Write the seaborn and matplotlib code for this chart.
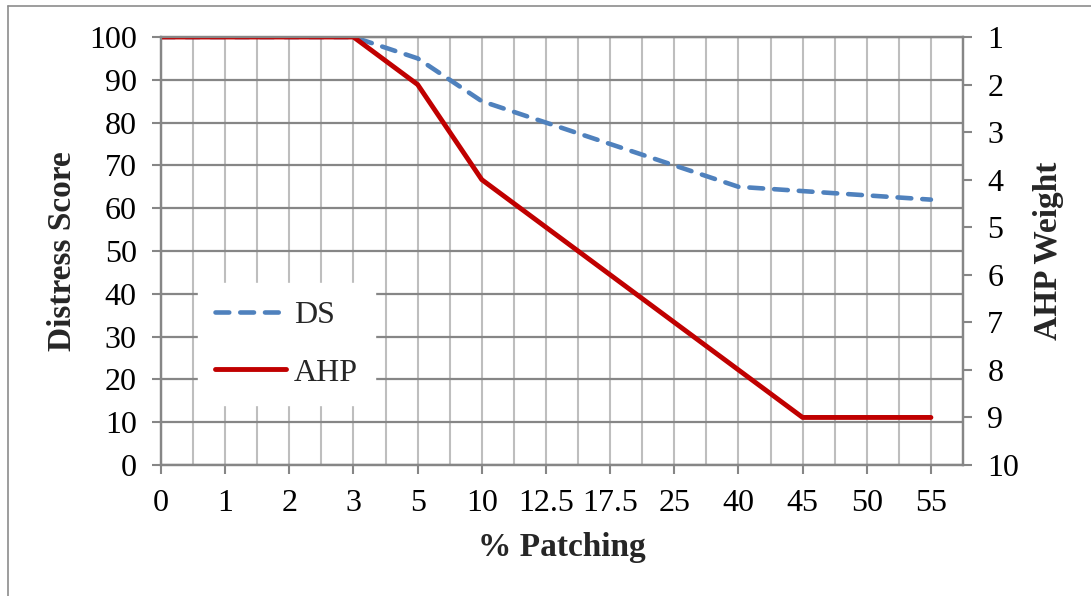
import matplotlib
matplotlib.use("Agg")
import matplotlib.pyplot as plt
import seaborn as sns
import numpy as np
from matplotlib.lines import Line2D
from matplotlib.ticker import MultipleLocator

categories = ["0", "1", "2", "3", "5", "10", "12.5", "17.5", "25", "40", "45", "50", "55"]
ds_values = [100, 100, 100, 100, 95, 85, 80, 75, 70, 65, 64, 63, 62]
ahp_values = [1, 1, 1, 1, 2, 4, 5, 6, 7, 8, 9, 9, 9]
left_ticks = list(range(0, 101, 10))
right_ticks = list(range(1, 11))

sns.set_theme(style="white")
plt.rcParams['font.family'] = ['Liberation Serif', 'DejaVu Serif']

BLUE = "#4F81BD"
RED = "#C00000"
GRID_H = "#868686"
GRID_V = "#BEBEBE"

fig = plt.figure(figsize=(10.91, 5.96), dpi=100)
ax = fig.add_axes([161/1091, 1-465/596, (963-161)/1091, (465-37)/596])
ax2 = ax.twinx()

pos = np.arange(len(categories))

sns.lineplot(x=pos, y=ds_values, ax=ax, color=BLUE, linewidth=3.3, label="DS", legend=False)
l_ds = ax.get_lines()[0]
l_ds.set_dashes((3.0, 2.4))
l_ds.set_dash_capstyle('round')

sns.lineplot(x=pos, y=ahp_values, ax=ax2, color=RED, linewidth=3.5, label="AHP", legend=False)
l_ahp = ax2.get_lines()[0]
l_ahp.set_solid_capstyle('round')

ax.set_xlim(0, len(categories) - 0.5)
ax.set_ylim(0, 100)
ax2.set_ylim(10, 1)

ax.set_xticks(pos, labels=categories)
ax.xaxis.set_minor_locator(MultipleLocator(0.5))
ax.set_yticks(left_ticks)
ax2.set_yticks(right_ticks)

ax.grid(False)
ax2.grid(False)
ax.grid(True, which='both', axis='x', color=GRID_V, linewidth=1.5)
ax.grid(True, which='major', axis='y', color=GRID_H, linewidth=1.6)
ax.set_axisbelow(True)

for a in (ax, ax2):
    for s in a.spines.values():
        s.set_color(GRID_H)
        s.set_linewidth(1.6)

ax.tick_params(axis='both', which='major', direction='out', length=6.5, width=1.5,
               color=GRID_H, labelsize=23, pad=11, labelcolor='black')
ax.tick_params(axis='x', which='minor', length=0)
ax.tick_params(axis='y', left=True, right=False)
ax.tick_params(axis='x', bottom=True)
ax2.tick_params(axis='y', direction='out', length=6.5, width=1.5, color=GRID_H,
                labelsize=23, pad=11, right=True, labelcolor='black')

ax.set_xlabel("% Patching", fontsize=24, fontweight='bold', labelpad=10)
ax.set_ylabel("Distress Score", fontsize=24, fontweight='bold', labelpad=8)
ax2.set_ylabel("AHP Weight", fontsize=24, fontweight='bold', labelpad=10, rotation=90)

handles = [l_ds, l_ahp]
leg = ax2.legend(handles, ["DS", "AHP"], loc='upper left',
                 bbox_to_anchor=(0.046, 0.425), frameon=True, fontsize=23,
                 handlelength=2.2, labelspacing=0.88, borderpad=0.55,
                 borderaxespad=0, handletextpad=0.25, fancybox=False)
leg.get_frame().set_edgecolor('white')
leg.get_frame().set_facecolor('white')
leg.get_frame().set_alpha(1)

# outer border
x0 = 8/1091
y0 = 1 - 6/596
fig.add_artist(Line2D([x0, x0], [0, y0], transform=fig.transFigure, color="#8C8C8C", linewidth=1.2))
fig.add_artist(Line2D([x0, 1], [y0, y0], transform=fig.transFigure, color="#8C8C8C", linewidth=1.2))

fig.savefig("out.png", dpi=100, facecolor='white')
